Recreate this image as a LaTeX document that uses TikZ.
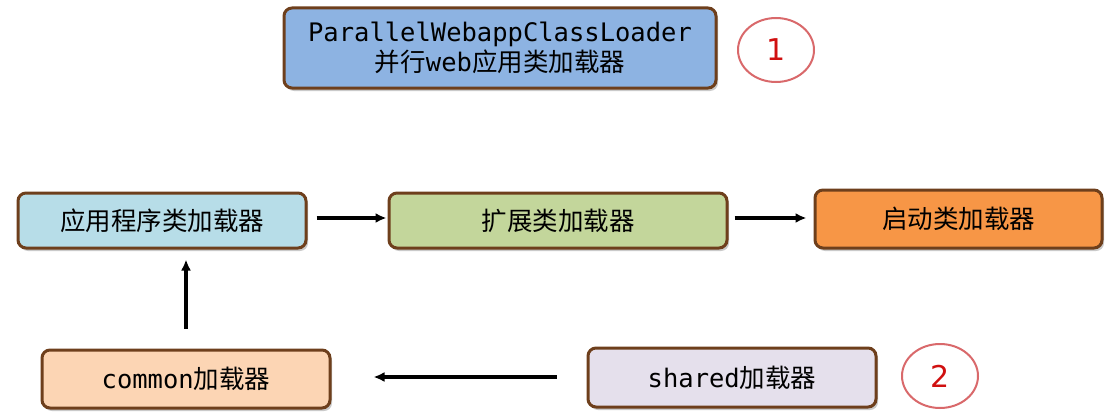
\documentclass[tikz,border=0pt]{standalone}
\usepackage{fontspec}
\newfontfamily\cjk{Noto Sans CJK SC}
\newfontfamily\mono{DejaVu Sans Mono}
\newfontfamily\numfont{DejaVu Sans}
\usetikzlibrary{shadows,arrows.meta,shapes.geometric}
\definecolor{brd}{HTML}{6E3F1C}
\definecolor{cTop}{HTML}{8DB3E2}
\definecolor{cApp}{HTML}{B7DDE8}
\definecolor{cExt}{HTML}{C3D69B}
\definecolor{cBoot}{HTML}{F79646}
\definecolor{cCom}{HTML}{FCD5B4}
\definecolor{cSh}{HTML}{E5E0EC}
\definecolor{circ}{HTML}{D9696B}
\definecolor{num}{HTML}{D01010}
\tikzset{
  box/.style={draw=brd, line width=3pt, rounded corners=8pt, align=center,
    inner sep=0pt, font=\fontsize{25.5}{31}\selectfont,
    drop shadow={shadow xshift=2pt, shadow yshift=-3pt, opacity=0.35, fill=black!60}},
  mark circle/.style={ellipse, draw=circ, line width=2pt, minimum width=76pt,
    minimum height=64pt, text=num, font=\numfont\fontsize{30}{34}\selectfont},
  arr/.style={line width=3.2pt, -{Latex[length=11pt,width=10pt]}}
}
\begin{document}
\begin{tikzpicture}[x=1pt,y=-1pt]
\useasboundingbox (0,0) rectangle (1116,420);
\node[box, fill=cTop, minimum width=432pt, minimum height=80pt] (top) at (500,48)
  {{\mono ParallelWebappClassLoader}\\[-1pt]{\cjk 并行}{\mono web}{\cjk 应用类加载器}};
\node[mark circle] (c1) at (776,50) {1};
\node[box, fill=cApp, minimum width=288pt, minimum height=55pt] (app) at (162,220.5) {\cjk 应用程序类加载器};
\node[box, fill=cExt, minimum width=338pt, minimum height=55pt] (ext) at (558,220.5) {\cjk 扩展类加载器};
\node[box, fill=cBoot, minimum width=287pt, minimum height=58pt] (boot) at (958.5,219) {\cjk 启动类加载器};
\node[box, fill=cCom, minimum width=288pt, minimum height=58pt] (com) at (186,379) {{\mono common}{\cjk 加载器}};
\node[box, fill=cSh, minimum width=288pt, minimum height=59pt] (sh) at (732,377.5) {{\mono shared}{\cjk 加载器}};
\node[mark circle] (c2) at (940,376) {2};
\draw[arr, shorten <=9pt, shorten >=1pt] (app.east |- 0,218) -- (ext.west |- 0,218);
\draw[arr, shorten <=6pt, shorten >=7pt] (ext.east |- 0,218) -- (boot.west |- 0,218);
\draw[arr, shorten <=20pt, shorten >=10pt] (com.north) -- (com.north |- app.south);
\draw[arr, shorten <=30pt, shorten >=42pt] (sh.west |- 0,377) -- (com.east |- 0,377);
\end{tikzpicture}
\end{document}
